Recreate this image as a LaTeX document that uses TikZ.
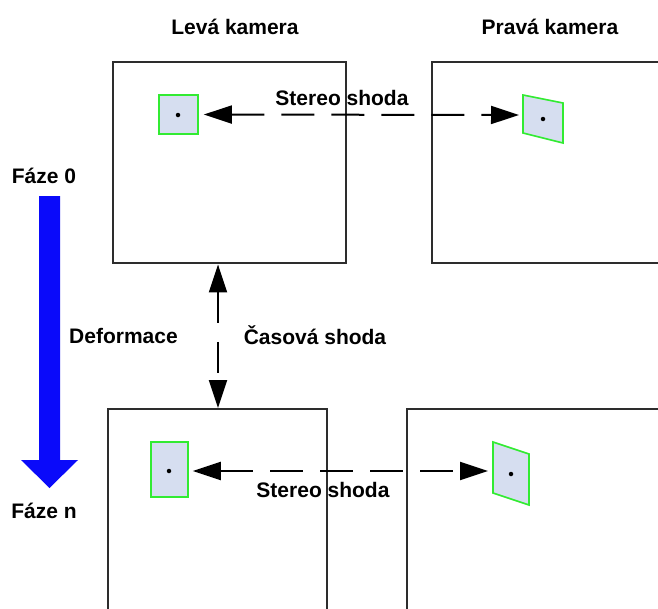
\documentclass[tikz,border=0pt]{standalone}
\usepackage{fontspec}
\setmainfont{Liberation Sans}
\usetikzlibrary{arrows.meta}

\definecolor{framegray}{RGB}{45,45,45}
\definecolor{patchfill}{RGB}{214,222,240}
\definecolor{patchedge}{RGB}{50,235,50}
\definecolor{phaseblue}{RGB}{10,10,250}

\tikzset{
  lbl/.style={font=\fontsize{21}{24}\selectfont\bfseries, inner sep=0pt, anchor=base},
  camframe/.style={draw=framegray, line width=2.4pt, anchor=north west, inner sep=0pt},
  patch/.style={draw=patchedge, fill=patchfill, line width=1.6pt, inner sep=0pt},
  pixel/.style={fill=black, circle, inner sep=0pt, minimum size=4.5pt},
  tri/.tip={Triangle[length=28pt, width=18pt]},
  matchline/.style={line width=2pt, draw=black, dash pattern=on 33pt off 17pt, tri-tri}
}

\begin{document}
\begin{tikzpicture}[x=1pt, y=-1pt]
  \useasboundingbox (0,0) rectangle (658,608);
  \clip (0,0) rectangle (658,608);
  \fill[white] (0,0) rectangle (658,608);

  % column titles
  \node[lbl] (tleft)  at (235,34) {Levá kamera};
  \node[lbl] (tright) at (550,34) {Pravá kamera};

  % camera frames (the right and lower ones run past the page edge)
  \node[camframe, minimum width=233pt, minimum height=201pt] (tl) at (112,61) {};
  \node[camframe, minimum width=269pt, minimum height=201pt] (tr) at (431,61) {};
  \node[camframe, minimum width=219pt, minimum height=242pt] (bl) at (107,408) {};
  \node[camframe, minimum width=294pt, minimum height=242pt] (br) at (406,408) {};

  % image patches, left view
  \node[patch, minimum width=39pt, minimum height=39pt] (pl1) at (178.5,114.5) {};
  \node[patch, minimum width=37pt, minimum height=55pt] (pl2) at (169.5,469.5) {};
  \node[pixel] (dl1) at (178,115) {};
  \node[pixel] (dl2) at (169,471) {};

  % image patches, right view (warped)
  \filldraw[patch] (523,95) -- (563,103) -- (563,143) -- (523,133) -- cycle;
  \filldraw[patch] (493,442) -- (529,454) -- (529,505) -- (493,493) -- cycle;
  \coordinate (pr1) at (523,115);
  \coordinate (pr2) at (493,471);
  \node[pixel] (dr1) at (543,119) {};
  \node[pixel] (dr2) at (511,474) {};

  % stereo matches
  \draw[matchline, shorten <=5pt, shorten >=4pt] (pl1.east) -- (pr1);
  \draw[matchline, shorten <=4pt, shorten >=5pt] (pl2.east |- dl2) -- (pr2);
  \node[lbl] (st1) at (342,105) {Stereo shoda};
  \node[lbl] (st2) at (323,497) {Stereo shoda};

  % temporal match
  \coordinate (vx) at (218,0);
  \draw[matchline, dash pattern=on 31pt off 19pt] (tl.south -| vx) -- (bl.north -| vx);
  \node[lbl] (tm) at (315,344) {Časová shoda};

  % deformation over phases
  \fill[phaseblue] (39,196) -- (60,196) -- (60,460) -- (78,460) -- (49.5,488)
    -- (21,460) -- (39,460) -- cycle;
  \node[lbl] (f0) at (44,183) {Fáze 0};
  \node[lbl] (fn) at (44,518) {Fáze n};
  \node[lbl, anchor=base west] (def) at (69,343) {Deformace};
\end{tikzpicture}
\end{document}
